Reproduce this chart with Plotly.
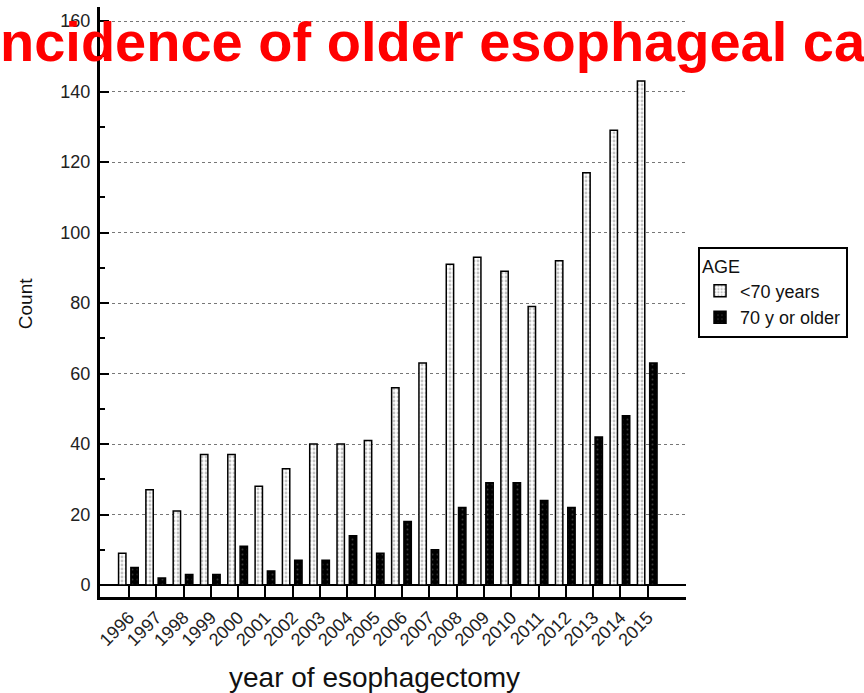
import plotly.graph_objects as go

YEARS = [str(y) for y in range(1996, 2016)]
UNDER_70 = [9, 27, 21, 37, 37, 28, 33, 40, 40, 41, 56, 63, 91, 93, 89, 79, 92, 117, 129, 143]
OVER_70 = [5, 2, 3, 3, 11, 4, 7, 7, 14, 9, 18, 10, 22, 29, 29, 24, 22, 42, 48, 63]
Y_TICKS = [0, 20, 40, 60, 80, 100, 120, 140, 160]

FONT = "Arial, Liberation Sans, sans-serif"
idx = list(range(len(YEARS)))

fig = go.Figure()

young = go.Bar(name="<70 years", x=idx, y=UNDER_70, offset=-0.38, width=0.27,
               marker=dict(color="white", line=dict(color="black", width=1.5),
                           pattern=dict(shape=".", fgcolor="#8a8a8a", bgcolor="white", size=4, solidity=0.4)))
old = go.Bar(name="70 y or older", x=idx, y=OVER_70, offset=0.07, width=0.27,
             marker=dict(color="black", line=dict(color="black", width=1.5),
                         pattern=dict(shape=".", fgcolor="#707070", bgcolor="black", size=5, solidity=0.12)))
fig.add_trace(young)
fig.add_trace(old)

fig.update_xaxes(range=[-1.06, 20.4], tickvals=idx, ticktext=YEARS, tickangle=-45,
                 ticks="inside", ticklen=11, tickwidth=1.5, tickcolor="black",
                 showline=True, linecolor="black", linewidth=3, showgrid=False, zeroline=False,
                 tickfont=dict(family=FONT, size=18, color="#222"))
fig.update_yaxes(range=[-3.4, 164], tickvals=Y_TICKS, ticks="inside", ticklen=9, tickwidth=2,
                 tickcolor="black", showline=True, linecolor="black", linewidth=3,
                 showgrid=True, gridcolor="#777", griddash="dot", gridwidth=1,
                 zeroline=True, zerolinecolor="black", zerolinewidth=1.5,
                 minor=dict(dtick=10, ticks="inside", ticklen=5, tickwidth=1.5, tickcolor="black", showgrid=False),
                 ticklabelstandoff=3,
                 tickfont=dict(family=FONT, size=18, color="#222"))

fig.add_annotation(text="year of esophagectomy", xref="paper", yref="paper", x=0.469, y=-0.136,
                   xanchor="center", yanchor="middle",
                   showarrow=False, font=dict(family=FONT, size=28, color="#111"))
fig.add_annotation(text="Count", xref="paper", yref="paper", x=-0.128, y=0.498, textangle=-90,
                   xanchor="center", yanchor="middle",
                   showarrow=False, font=dict(family=FONT, size=19, color="#111"))

fig.update_layout(
    width=864, height=693,
    margin=dict(l=100, r=178, t=7, b=96),
    plot_bgcolor="white", paper_bgcolor="white",
    showlegend=True,
    title=dict(text="<b>ncidence of older esophageal ca</b>", x=0, xref="container", xanchor="left",
               y=1 - 41 / 693, yref="container", yanchor="middle", pad=dict(l=0, r=0, t=0, b=0),
               font=dict(family=FONT, size=56, color="#ff0000")),
    legend=dict(x=1.0205, y=0.593, xanchor="left", yanchor="top", bgcolor="white",
                bordercolor="black", borderwidth=2, traceorder="normal",
                title=dict(text="AGE", font=dict(family=FONT, size=18, color="#111")),
                font=dict(family=FONT, size=18, color="#111")),
)

# drop the default 8px body margin so the figure sits at the page corner
fig.write_html("out.html", config={"displayModeBar": False},
               post_script="document.body.style.margin='0';")
